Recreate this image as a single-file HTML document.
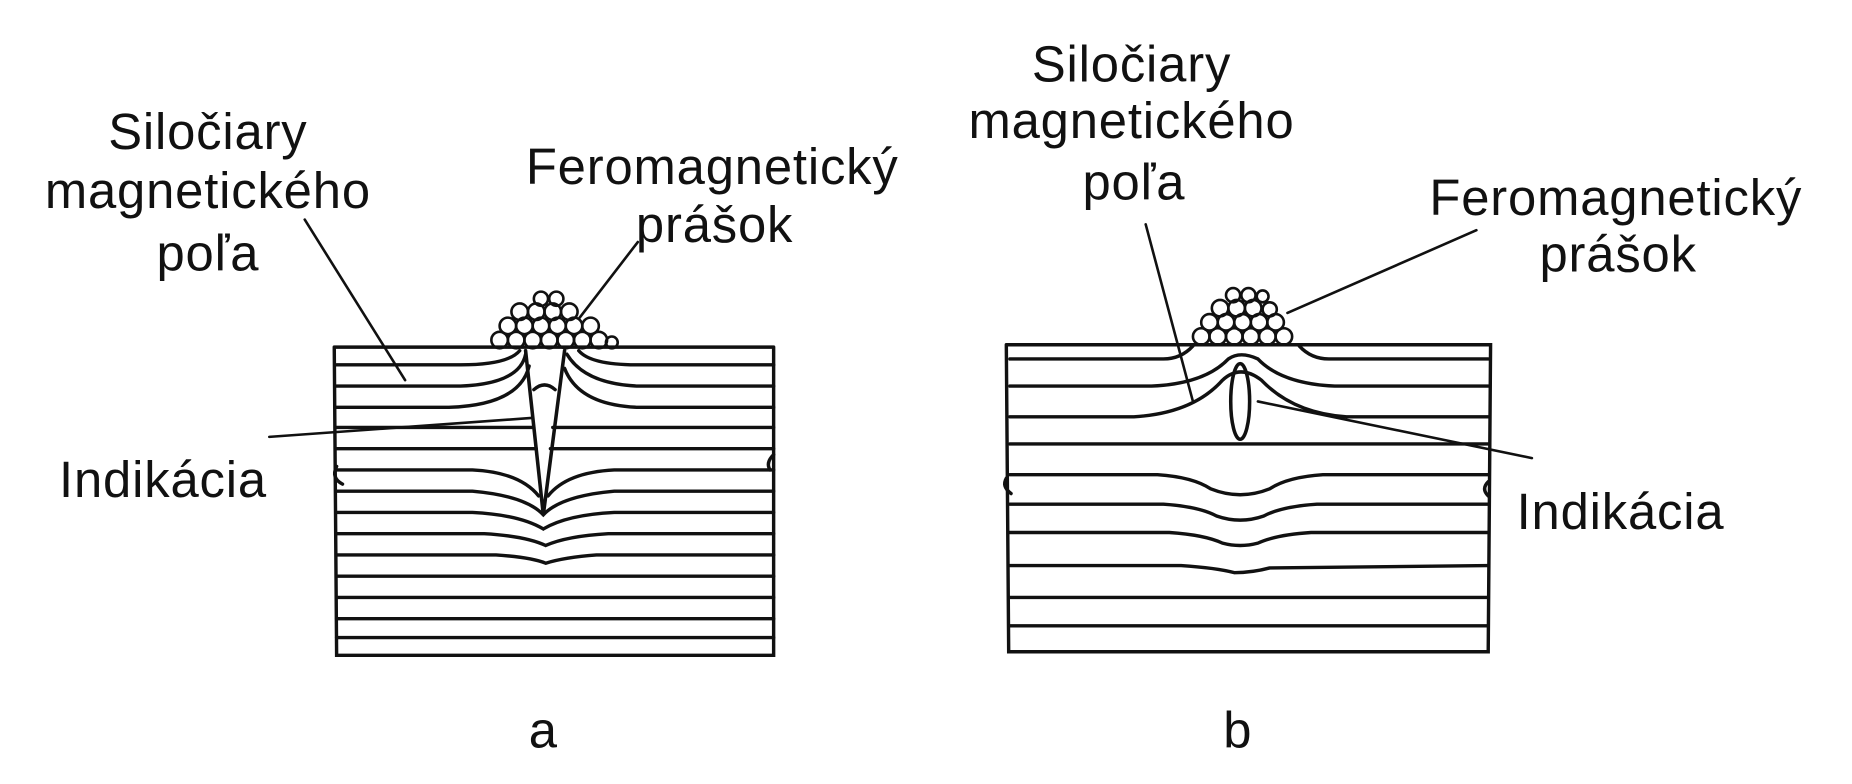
<!DOCTYPE html>
<html><head><meta charset="utf-8"><style>
html,body{margin:0;padding:0;background:#fff;}
svg{display:block}
text{font-family:"Liberation Sans","DejaVu Sans",sans-serif;font-size:43px;letter-spacing:0.7px;fill:#111;}
</style></head><body>
<svg width="1852" height="784" viewBox="0 0 1568 664" preserveAspectRatio="none" xmlns="http://www.w3.org/2000/svg">
<g stroke="#111" fill="none" stroke-width="2.9" stroke-linecap="round">
<!-- PANEL A -->
<path d="M283,294 L655,294 M283,294 L285,555 L655,555 L655,294"/>
<path d="M285,309 L390,309 Q430,309 440,297"/>
<path d="M285,327 L390,327 Q440,325 445,300"/>
<path d="M285,345 L380,345 Q440,343 448,310"/>
<path d="M490,297 Q500,309 540,309 L655,309"/>
<path d="M480,300 Q495,325 540,327 L655,327"/>
<path d="M478,312 Q490,343 540,345 L655,345"/>
<path d="M285,362 L452,362 M468,362 L655,362"/>
<path d="M285,380 L454,380 M466,380 L655,380"/>
<path d="M285,398 L400,398 Q440,400 456,420 M464,420 Q480,400 520,398 L655,398"/>
<path d="M285,416 L400,416 Q445,420 460,436 Q475,420 520,416 L655,416"/>
<path d="M285,434 L400,434 Q440,436 460,448 Q480,436 520,434 L655,434"/>
<path d="M285,452 L410,452 Q445,454 462,462 Q480,454 515,452 L655,452"/>
<path d="M285,470 L420,470 Q450,472 462,477 Q478,472 505,470 L655,470"/>
<path d="M285,488 L655,488"/><path d="M285,506 L655,506"/><path d="M285,524 L655,524"/><path d="M285,540 L655,540"/>
<path d="M445,297 L460,436 L478,297" stroke-width="3"/>
<path d="M452,330 Q461,322 470,330"/>
<g stroke-width="2.2">
<circle cx="423" cy="288" r="7"/><circle cx="437" cy="288" r="7"/><circle cx="451" cy="288" r="7"/><circle cx="465" cy="288" r="7"/><circle cx="479" cy="288" r="7"/><circle cx="493" cy="288" r="7"/><circle cx="507" cy="288" r="7"/><circle cx="518" cy="290" r="5"/>
<circle cx="430" cy="276" r="7"/><circle cx="444" cy="276" r="7"/><circle cx="458" cy="276" r="7"/><circle cx="472" cy="276" r="7"/><circle cx="486" cy="276" r="7"/><circle cx="500" cy="276" r="7"/>
<circle cx="440" cy="264" r="7"/><circle cx="454" cy="264" r="7"/><circle cx="468" cy="264" r="7"/><circle cx="482" cy="264" r="7"/>
<circle cx="458" cy="253" r="6"/><circle cx="471" cy="253" r="6"/>
</g>
<path d="M258,186 L343,322" stroke-width="2.2"/>
<path d="M540,205 L490,270" stroke-width="2.2"/>
<path d="M228,370 L450,354" stroke-width="2.2"/>
<path d="M285,395 Q280,405 290,410"/><path d="M655,385 Q648,392 652,398"/>

<!-- PANEL B -->
<path d="M852,292 L1262,292 L1260,552 L854,552 L852,292"/>
<path d="M855,304 L985,304 Q1000,304 1010,293"/>
<path d="M1100,293 Q1110,304 1125,304 L1260,304"/>
<path d="M855,327 L975,327 Q1020,325 1040,304 Q1050,297 1065,304 Q1085,325 1130,327 L1260,327"/>
<path d="M855,353 L960,353 Q1010,350 1035,322 Q1050,308 1068,322 Q1095,350 1140,353 L1260,353"/>
<path d="M855,376 L1260,376"/>
<path d="M855,402 L980,402 Q1010,404 1025,414 Q1050,424 1075,414 Q1090,404 1120,402 L1260,402"/>
<path d="M855,427 L985,427 Q1015,429 1030,437 Q1050,444 1070,437 Q1085,429 1115,427 L1260,427"/>
<path d="M855,451 L990,451 Q1020,453 1035,460 Q1050,464 1065,460 Q1080,453 1110,451 L1260,451"/>
<path d="M855,479 L1000,479 Q1030,481 1045,485 Q1060,485 1075,481 L1260,479"/>
<path d="M855,506 L1260,506"/><path d="M855,530 L1260,530"/>
<ellipse cx="1050" cy="340" rx="8" ry="32" stroke-width="3"/>
<g stroke-width="2.2">
<circle cx="1017" cy="285" r="7"/><circle cx="1031" cy="285" r="7"/><circle cx="1045" cy="285" r="7"/><circle cx="1059" cy="285" r="7"/><circle cx="1073" cy="285" r="7"/><circle cx="1087" cy="285" r="7"/>
<circle cx="1024" cy="273" r="7"/><circle cx="1038" cy="273" r="7"/><circle cx="1052" cy="273" r="7"/><circle cx="1066" cy="273" r="7"/><circle cx="1080" cy="273" r="7"/>
<circle cx="1033" cy="261" r="7"/><circle cx="1047" cy="261" r="7"/><circle cx="1061" cy="261" r="7"/><circle cx="1075" cy="262" r="6"/>
<circle cx="1044" cy="250" r="6"/><circle cx="1057" cy="250" r="6"/><circle cx="1069" cy="251" r="5"/>
</g>
<path d="M970,190 L1010,340" stroke-width="2.2"/>
<path d="M1250,195 L1090,265" stroke-width="2.2"/>
<path d="M1065,340 L1297,388" stroke-width="2.2"/>
<path d="M852,405 Q848,412 856,418"/><path d="M1260,408 Q1254,414 1260,420"/>
</g>
<g>
<text x="176" y="126" text-anchor="middle">Siločiary</text>
<text x="176" y="176" text-anchor="middle">magnetického</text>
<text x="176" y="229" text-anchor="middle">poľa</text>
<text x="603" y="156" text-anchor="middle">Feromagnetický</text>
<text x="605" y="205" text-anchor="middle">prášok</text>
<text x="138" y="421" text-anchor="middle">Indikácia</text>
<text x="460" y="633" text-anchor="middle">a</text>
<text x="958" y="69" text-anchor="middle">Siločiary</text>
<text x="958" y="117" text-anchor="middle">magnetického</text>
<text x="960" y="169" text-anchor="middle">poľa</text>
<text x="1368" y="182" text-anchor="middle">Feromagnetický</text>
<text x="1370" y="230" text-anchor="middle">prášok</text>
<text x="1372" y="448" text-anchor="middle">Indikácia</text>
<text x="1048" y="633" text-anchor="middle">b</text>
</g>
</svg>
</body></html>
